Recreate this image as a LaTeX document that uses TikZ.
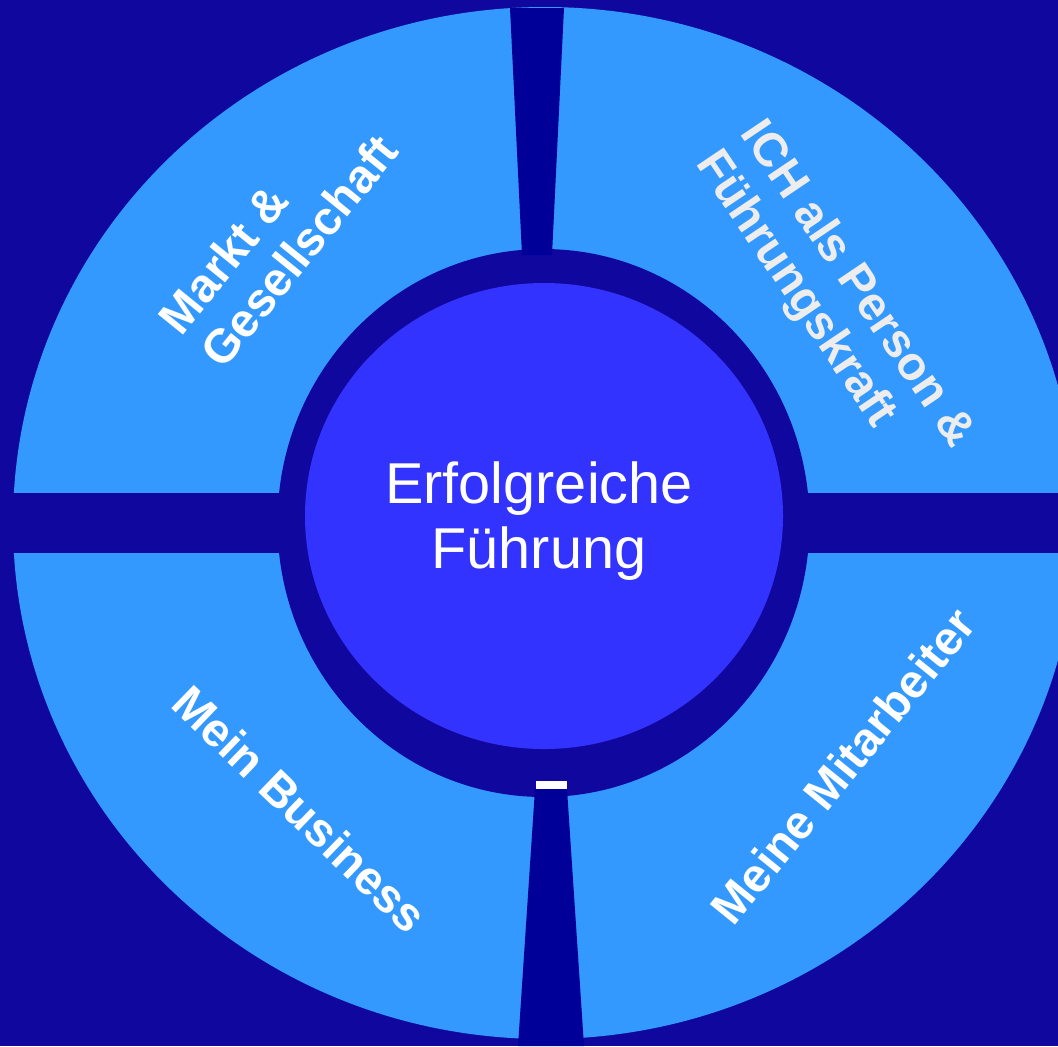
\documentclass[tikz,border=0pt]{standalone}
\usepackage{fontspec}
\setmainfont{Liberation Sans}
\usepackage{xcolor}
\usepackage{tikz}
\usetikzlibrary{
    positioning
}
\definecolor{bgblue}{RGB}{16,8,158}
\definecolor{barblue}{RGB}{0,0,153}
\definecolor{segblue}{RGB}{51,153,255}
\definecolor{hubblue}{RGB}{51,51,255}
\tikzstyle{segtext} = [
    text=white,
    font=\bfseries\fontsize{26.9}{30.5}\selectfont,
    align=left,
    inner sep=0pt
]
\tikzstyle{hubtext} = [
    text=white,
    font=\fontsize{32.8}{37}\selectfont,
    align=center,
    inner sep=0pt
]
\begin{document}
\begin{tikzpicture}[
        x=0.02cm, y=-0.02cm
    ]
    \useasboundingbox (0,0) rectangle (1058,1046);
    \clip (0,0) rectangle (1058,1046);
    \fill[bgblue] (0,0) rectangle (1058,1046);
    % outer disc and the cross band
    \fill[segblue] (545,523) ellipse [x radius=532, y radius=516];
    \fill[bgblue] (0,493) rectangle (1058,553);
    % ring and hub
    \fill[bgblue] (543.5,523) ellipse [x radius=266, y radius=274];
    \fill[hubblue] (544,516) ellipse [x radius=239, y radius=233];
    % vertical bars
    \fill[barblue] (510,8) -- (564,8) -- (552,255) -- (522,255) -- cycle;
    \fill[barblue] (535,789) -- (567,789) -- (584,1046) -- (518,1046) -- cycle;
    \fill[white] (536,781) rectangle (567,789);
    % texts
    \node[hubtext] (hub) at (539,521) {Erfolgreiche\\ Führung};
    \node[segtext, rotate=51] (markt) at (278,234) {Markt \&\\Gesellschaft};
    \node[segtext, rotate=-56, text=white!93!black] (ich) at (834,300) {ICH als Person \&\\Führungskraft};
    \node[segtext, rotate=-44] (business) at (300,809) {Mein Business};
    \node[segtext, rotate=51] (team) at (843,766) {Meine Mitarbeiter};
\end{tikzpicture}
\end{document}
